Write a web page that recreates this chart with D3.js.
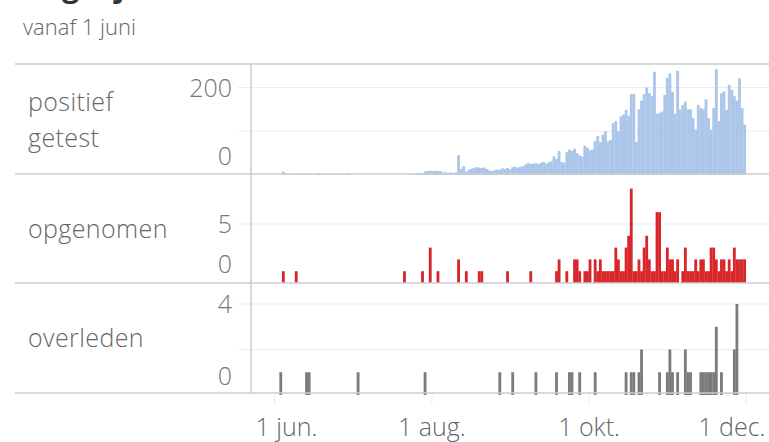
<!DOCTYPE html>
<html>
<head>
<meta charset="utf-8">
<script src="https://cdn.jsdelivr.net/npm/d3@7/dist/d3.min.js"></script>
<style>
  body { margin: 0; background: #fff; }
  svg { display: block; font-family: "Open Sans", sans-serif; }
</style>
</head>
<body>
<svg id="chart" width="769" height="442"></svg>
<script>
// daily positive tests, 1 june .. 30 november (one value per day)
const startDate = "2020-06-01";
const positief = [
  // juni
  0, 0, 0, 8, 3, 1, 0, 1, 3, 0, 3, 2, 2, 0, 1, 0, 3, 3, 0, 1, 0, 0, 2, 0, 0, 1, 0, 0, 4, 3,
  // juli
  0, 0, 0, 0, 0, 0, 0, 0, 0, 0, 0, 0, 0, 0, 0, 0, 0, 0, 0, 0, 0, 0, 0, 2, 0, 3, 4, 3, 8, 9, 10,
  // augustus
  9, 10, 9, 9, 6, 6, 5, 6, 5, 6, 45, 14, 20, 8, 12, 14, 16, 18, 17, 16, 17, 14, 10, 9, 11, 12, 12, 15, 14, 16, 13,
  // september
  18, 19, 17, 19, 20, 24, 28, 25, 26, 27, 25, 28, 30, 26, 29, 31, 43, 37, 55, 30, 28, 52, 58, 55, 60, 50, 45, 42, 67, 62,
  // oktober
  56, 58, 77, 89, 75, 92, 100, 77, 80, 119, 123, 100, 134, 138, 149, 135, 185, 185, 75, 150, 170, 185, 200, 187, 180, 236, 140, 142, 145, 183, 222,
  // november
  232, 190, 140, 238, 150, 160, 168, 150, 150, 130, 104, 160, 153, 150, 173, 130, 104, 153, 242, 123, 187, 191, 149, 206, 195, 180, 170, 221, 153, 115
];

// days with hospital admissions [date, count]
const opgenomen = [
  ["2020-06-04", 1], ["2020-06-09", 1], ["2020-07-21", 1], ["2020-07-28", 1], ["2020-07-31", 3],
  ["2020-08-03", 1], ["2020-08-11", 2], ["2020-08-14", 1], ["2020-08-19", 1], ["2020-08-20", 1],
  ["2020-08-30", 1], ["2020-09-08", 1], ["2020-09-18", 1], ["2020-09-19", 2], ["2020-09-22", 1],
  ["2020-09-25", 2], ["2020-09-26", 2], ["2020-09-27", 1], ["2020-09-29", 1], ["2020-09-30", 1],
  ["2020-10-01", 2], ["2020-10-03", 2], ["2020-10-04", 1], ["2020-10-05", 2], ["2020-10-06", 1],
  ["2020-10-07", 1], ["2020-10-08", 1], ["2020-10-09", 1], ["2020-10-10", 1], ["2020-10-11", 3],
  ["2020-10-12", 2], ["2020-10-13", 1], ["2020-10-14", 1], ["2020-10-15", 3], ["2020-10-16", 4],
  ["2020-10-17", 8], ["2020-10-18", 1], ["2020-10-19", 1], ["2020-10-20", 2], ["2020-10-21", 1],
  ["2020-10-22", 3], ["2020-10-23", 4], ["2020-10-24", 2], ["2020-10-25", 1], ["2020-10-26", 1],
  ["2020-10-27", 6], ["2020-10-28", 6], ["2020-10-29", 1], ["2020-10-30", 1], ["2020-10-31", 3],
  ["2020-11-01", 2], ["2020-11-02", 2], ["2020-11-03", 1], ["2020-11-04", 2], ["2020-11-06", 1],
  ["2020-11-07", 3], ["2020-11-08", 1], ["2020-11-09", 1], ["2020-11-10", 1], ["2020-11-11", 2],
  ["2020-11-12", 1], ["2020-11-13", 2], ["2020-11-14", 2], ["2020-11-15", 1], ["2020-11-16", 1],
  ["2020-11-17", 3], ["2020-11-18", 3], ["2020-11-19", 2], ["2020-11-20", 1], ["2020-11-21", 2],
  ["2020-11-22", 2], ["2020-11-23", 1], ["2020-11-24", 2], ["2020-11-25", 1], ["2020-11-26", 3],
  ["2020-11-27", 2], ["2020-11-28", 2], ["2020-11-29", 2], ["2020-11-30", 2]
];

// days with deaths [date, count]
const overleden = [
  ["2020-06-03", 1], ["2020-06-13", 1], ["2020-06-14", 1], ["2020-07-03", 1], ["2020-07-29", 1],
  ["2020-08-27", 1], ["2020-09-01", 1], ["2020-09-10", 1], ["2020-09-18", 1], ["2020-09-23", 1],
  ["2020-09-24", 1], ["2020-09-27", 1], ["2020-10-03", 1], ["2020-10-15", 1], ["2020-10-17", 1],
  ["2020-10-18", 1], ["2020-10-20", 1], ["2020-10-21", 2], ["2020-10-28", 1], ["2020-10-31", 1],
  ["2020-11-01", 2], ["2020-11-02", 1], ["2020-11-04", 1], ["2020-11-07", 2], ["2020-11-08", 1],
  ["2020-11-09", 1], ["2020-11-13", 1], ["2020-11-14", 1], ["2020-11-15", 1], ["2020-11-16", 1],
  ["2020-11-17", 1], ["2020-11-18", 1], ["2020-11-19", 3], ["2020-11-21", 1], ["2020-11-26", 2],
  ["2020-11-27", 4]
];

const panelLabels = [["positief", "getest"], ["opgenomen"], ["overleden"]];
const panelMax = [200, 5, 4];
const panelGrid = [[100, 200], [5], [2, 4]];
const panelTicks = [[0, 200], [0, 5], [0, 4]];
const panelColors = ["#abc6e9", "#d8262b", "#7b7b7b"];

const xTickDates = ["2020-06-01", "2020-08-01", "2020-10-01", "2020-12-01"];
const xTickLabels = ["1 jun.", "1 aug.", "1 okt.", "1 dec."];

const width = 769;
const parse = d3.utcParse("%Y-%m-%d");
const start = parse(startDate);

const series = [
  positief.map((v, i) => ({ date: d3.utcDay.offset(start, i), value: v })),
  opgenomen.map(([d, v]) => ({ date: parse(d), value: v })),
  overleden.map(([d, v]) => ({ date: parse(d), value: v }))
];

const x = d3.scaleUtc()
  .domain([parse("2020-05-23"), parse("2020-12-10")])
  .range([251, width]);

// panel boxes (top, bottom, zero line, max line)
const bands = [
  { top: 64, bottom: 174, y0: 175, y1: 87.5 },
  { top: 174, bottom: 283, y0: 283, y1: 224 },
  { top: 283, bottom: 393, y0: 395, y1: 304 }
];

const svg = d3.select("#chart");

// cut-off title and subtitle
svg.append("text")
  .attr("x", 22).attr("y", -3)
  .attr("font-size", 30).attr("font-weight", 700).attr("fill", "#333")
  .text("Dagelijkse aantallen");

svg.append("text")
  .attr("x", 23).attr("y", 35)
  .attr("font-size", 22).attr("font-weight", 300).attr("fill", "#666")
  .text("vanaf 1 juni");

bands.forEach((b, i) => {
  const y = d3.scaleLinear().domain([0, panelMax[i]]).range([b.y0, b.y1]);
  const g = svg.append("g");

  g.selectAll("line.grid")
    .data(panelGrid[i])
    .join("line")
    .attr("class", "grid")
    .attr("x1", 238).attr("x2", width)
    .attr("y1", d => y(d)).attr("y2", d => y(d))
    .attr("stroke", "#ececec").attr("stroke-width", 1.2);

  g.selectAll("rect")
    .data(series[i].filter(d => d.value > 0))
    .join("rect")
    .attr("x", d => x(d.date))
    .attr("width", d => x(d3.utcDay.offset(d.date, 1)) - x(d.date) + 0.25)
    .attr("y", d => y(d.value))
    .attr("height", d => b.y0 - y(d.value))
    .attr("fill", panelColors[i]);

  g.selectAll("text.tick")
    .data(panelTicks[i])
    .join("text")
    .attr("class", "tick")
    .attr("x", 232)
    .attr("y", d => d === 0 ? b.y0 - 10 : y(d))
    .attr("dy", d => d === 0 ? 0 : "0.36em")
    .attr("text-anchor", "end")
    .attr("font-size", 25).attr("font-weight", 300).attr("fill", "#777")
    .text(d => d);

  const lines = panelLabels[i];
  const lineH = 36;
  const mid = i === 0 ? 129 : (b.top + b.bottom) / 2 + 9;
  g.append("text")
    .attr("font-size", 25).attr("font-weight", 300).attr("fill", "#666")
    .attr("letter-spacing", 0.4)
    .selectAll("tspan")
    .data(lines)
    .join("tspan")
    .attr("x", 28)
    .attr("y", (d, k) => mid + (k - (lines.length - 1) / 2) * lineH)
    .text(d => d);
});

// separators and axis line
svg.selectAll("line.sep")
  .data([64, 174, 283, 393])
  .join("line")
  .attr("class", "sep")
  .attr("x1", 15).attr("x2", width)
  .attr("y1", d => d).attr("y2", d => d)
  .attr("stroke", "#cccccc").attr("stroke-width", 1.5);

svg.append("line")
  .attr("x1", 251).attr("x2", 251)
  .attr("y1", 64).attr("y2", 393)
  .attr("stroke", "#cccccc").attr("stroke-width", 1.5);

// x axis
const xAxis = d3.axisBottom(x)
  .tickValues(xTickDates.map(parse))
  .tickSize(10)
  .tickFormat((d, i) => xTickLabels[i]);

const ax = svg.append("g")
  .attr("transform", "translate(0,394)")
  .call(xAxis);

ax.select(".domain").remove();
ax.selectAll(".tick line").attr("stroke", "#eaeaea");
ax.selectAll(".tick text")
  .attr("y", 42)
  .attr("dy", 0)
  .attr("font-family", "Open Sans, sans-serif")
  .attr("font-size", 25).attr("font-weight", 300).attr("fill", "#666")
  .each(function (d) {
    // keep edge labels inside the plot
    const w = this.getComputedTextLength();
    const cx = x(d);
    const lo = 255 + w / 2, hi = width - 4 - w / 2;
    const nx = Math.max(lo, Math.min(hi, cx));
    d3.select(this).attr("x", nx - cx);
  });
</script>
</body>
</html>
